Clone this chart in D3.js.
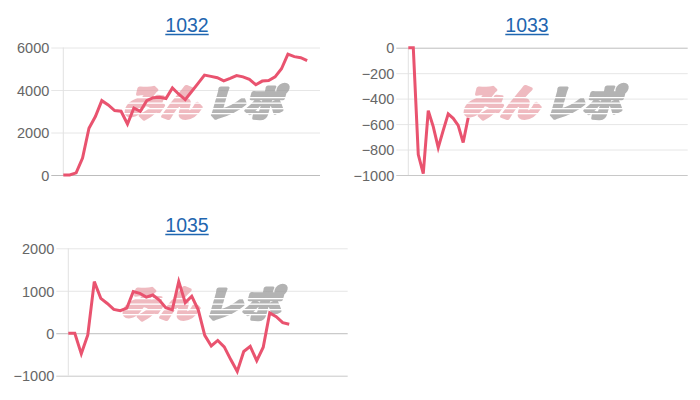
<!DOCTYPE html>
<html>
<head>
<meta charset="utf-8">
<script src="https://cdn.jsdelivr.net/npm/d3@7/dist/d3.min.js"></script>
<style>
  html, body { margin: 0; padding: 0; background: #fff; }
  svg { display: block; }
</style>
</head>
<body>
<svg id="chart" width="700" height="400"></svg>
<script>
// ---- data ----
const titles = ["1032", "1033", "1035"];
const slotCounts = [41, 57, 44];
const series1032 = [0, 0, 100, 800, 2200, 2750, 3500, 3300, 3030, 3000, 2400, 3150, 3000, 3500, 3640, 3660, 3600, 4100, 3800, 3550, 3930, 4310, 4700, 4640, 4580, 4430, 4550, 4680, 4620, 4500, 4250, 4420, 4450, 4620, 5000, 5690, 5570, 5520, 5380];
const series1033 = [0, 0, -840, -990, -495, -620, -785, -650, -520, -555, -610, -745, -550];
const series1035 = [0, 0, -485, -40, 1215, 820, 700, 560, 530, 590, 980, 940, 850, 900, 780, 600, 550, 1215, 720, 870, 550, -50, -300, -170, -320, -620, -900, -430, -310, -645, -330, 480, 390, 250, 210];
const ticks1032 = [0, 2000, 4000, 6000];
const ticks1033 = [0, -200, -400, -600, -800, -1000];
const ticks1035 = [-1000, 0, 1000, 2000];
const domains = [[0, 6000], [-1000, 0], [-1000, 2000]];

const allSeries = [series1032, series1033, series1035];
const allTicks = [ticks1032, ticks1033, ticks1035];

// ---- layout ----
const panels = [
  { left: 63.3, right: 320, top: 47.5, bottom: 175, titleX: 187, titleY: 32.3, wmX: 205, wmY: 104 },
  { left: 408.3, right: 687.7, top: 47.7, bottom: 175, titleX: 527, titleY: 32.3, wmX: 544, wmY: 104 },
  { left: 68.3, right: 347.7, top: 248.3, bottom: 375.7, titleX: 187, titleY: 232.3, wmX: 203, wmY: 305 }
];

const svg = d3.select("#chart");
const defs = svg.append("defs");

panels.forEach((p, k) => {
  const data = allSeries[k];
  const n = slotCounts[k];
  const x = d3.scaleLinear().domain([0, n - 1]).range([p.left, p.right]);
  const y = d3.scaleLinear().domain(domains[k]).range([p.bottom, p.top]);
  const g = svg.append("g");

  // title (link style)
  const t = g.append("text")
    .attr("x", p.titleX).attr("y", p.titleY)
    .attr("text-anchor", "middle")
    .attr("font-family", "Liberation Sans, Arial, sans-serif")
    .attr("font-size", 19.5)
    .attr("fill", "#1f66b0")
    .text(titles[k]);
  const tw = t.node().getComputedTextLength();
  g.append("line")
    .attr("x1", p.titleX - tw / 2).attr("x2", p.titleX + tw / 2)
    .attr("y1", p.titleY + 2.2).attr("y2", p.titleY + 2.2)
    .attr("stroke", "#1f66b0").attr("stroke-width", 1.3);

  // y axis with grid
  const yAxis = d3.axisLeft(y).tickValues(allTicks[k]).tickSize(-(p.right - p.left)).tickPadding(14).tickFormat(d3.format("d"));
  const ax = g.append("g").attr("transform", `translate(${p.left},0)`).call(yAxis);
  ax.select(".domain").remove();
  ax.selectAll(".tick line")
    .attr("x1", -12)
    .attr("stroke", d => d === 0 ? "#bdbdbd" : (y(d) >= p.bottom - 0.5 ? "#c8c8c8" : "#e6e6e6"))
    .attr("stroke-width", 1);
  ax.selectAll(".tick text")
    .attr("font-family", "Liberation Sans, Arial, sans-serif")
    .attr("font-size", 14.5)
    .attr("fill", "#666")
    .attr("dy", "0.36em");

  // left vertical axis line
  g.append("line")
    .attr("x1", p.left).attr("x2", p.left)
    .attr("y1", p.top).attr("y2", p.bottom)
    .attr("stroke", "#e2e2e2").attr("stroke-width", 1);

  // watermark with speed-line stripes
  const maskId = "stripes" + k;
  const mask = defs.append("mask").attr("id", maskId)
    .attr("maskUnits", "userSpaceOnUse")
    .attr("x", 0).attr("y", 0).attr("width", 700).attr("height", 400);
  mask.append("rect").attr("x", 0).attr("y", 0).attr("width", 700).attr("height", 400).attr("fill", "#fff");
  [-7, -1.5, 4, 9].forEach(dy => {
    mask.append("rect")
      .attr("x", p.wmX - 95).attr("y", p.wmY + dy)
      .attr("width", 190).attr("height", 1.3)
      .attr("fill", "#000");
  });
  const wmOuter = g.append("g").attr("mask", `url(#${maskId})`);
  const wm = wmOuter.append("g")
    .attr("transform", `translate(${p.wmX},${p.wmY}) skewX(-16)`);
  wm.append("g").attr("opacity", 0.6).append("text")
    .attr("x", -2).attr("y", 12)
    .attr("text-anchor", "end")
    .attr("font-family", "Noto Sans CJK JP, sans-serif")
    .attr("font-weight", 900)
    .attr("font-size", 36)
    .attr("textLength", 76)
    .attr("lengthAdjust", "spacingAndGlyphs")
    .attr("fill", "#e48d97")
    .attr("stroke", "#e48d97")
    .attr("stroke-width", 3.6)
    .attr("stroke-linejoin", "round")
    .text("みん");
  wm.append("g").attr("opacity", 0.72).append("text")
    .attr("x", 4).attr("y", 12)
    .attr("text-anchor", "start")
    .attr("font-family", "Noto Sans CJK JP, sans-serif")
    .attr("font-weight", 900)
    .attr("font-size", 36)
    .attr("textLength", 76)
    .attr("lengthAdjust", "spacingAndGlyphs")
    .attr("fill", "#969696")
    .attr("stroke", "#969696")
    .attr("stroke-width", 3.6)
    .attr("stroke-linejoin", "round")
    .text("レポ");

  // line
  g.append("path")
    .datum(data)
    .attr("fill", "none")
    .attr("stroke", "#e9536f")
    .attr("stroke-width", 3)
    .attr("stroke-linejoin", "miter")
    .attr("d", d3.line().x((d, i) => x(i)).y(d => y(d)));
});
</script>
</body>
</html>
